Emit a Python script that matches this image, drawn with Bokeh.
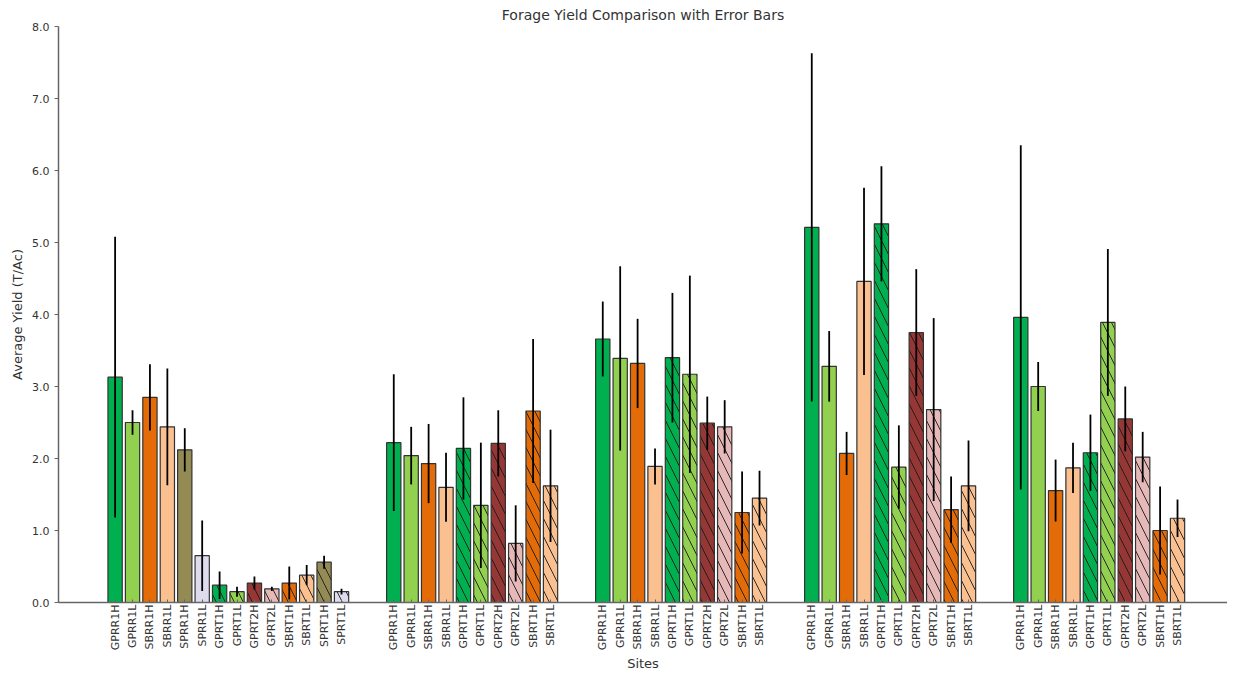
import math
from bokeh.plotting import figure
from bokeh.models import ColumnDataSource, FixedTicker, PrintfTickFormatter, Range1d, Title
from bokeh.embed import file_html
from bokeh.resources import INLINE

# ---- data ----
site1_categories = ["GPRR1H", "GPRR1L", "SBRR1H", "SBRR1L", "SPRR1H", "SPRR1L", "GPRT1H",
                    "GPRT1L", "GPRT2H", "GPRT2L", "SBRT1H", "SBRT1L", "SPRT1H", "SPRT1L"]
site1_means = [3.13, 2.50, 2.85, 2.44, 2.12, 0.65, 0.24, 0.15, 0.27, 0.19, 0.27, 0.38, 0.56, 0.15]
site1_errs = [1.95, 0.17, 0.46, 0.81, 0.30, 0.49, 0.19, 0.07, 0.09, 0.03, 0.23, 0.14, 0.09, 0.04]

site_categories = ["GPRR1H", "GPRR1L", "SBRR1H", "SBRR1L", "GPRT1H",
                   "GPRT1L", "GPRT2H", "GPRT2L", "SBRT1H", "SBRT1L"]
site2_means = [2.22, 2.04, 1.93, 1.60, 2.14, 1.35, 2.21, 0.82, 2.66, 1.62]
site2_errs = [0.95, 0.40, 0.55, 0.48, 0.71, 0.87, 0.46, 0.53, 1.00, 0.78]
site3_means = [3.66, 3.39, 3.32, 1.89, 3.40, 3.17, 2.49, 2.44, 1.25, 1.45]
site3_errs = [0.52, 1.28, 0.62, 0.25, 0.90, 1.37, 0.37, 0.37, 0.57, 0.38]
site4_means = [5.21, 3.28, 2.07, 4.46, 5.26, 1.88, 3.75, 2.68, 1.29, 1.62]
site4_errs = [2.42, 0.49, 0.30, 1.30, 0.80, 0.58, 0.88, 1.27, 0.46, 0.63]
site5_means = [3.96, 3.00, 1.555, 1.87, 2.08, 3.89, 2.55, 2.02, 1.00, 1.17]
site5_errs = [2.39, 0.34, 0.43, 0.35, 0.53, 1.02, 0.45, 0.35, 0.61, 0.26]

colors = {
    "GPRR1H": "#00b050", "GPRT1H": "#00b050",
    "GPRR1L": "#92d050", "GPRT1L": "#92d050",
    "SBRR1H": "#e36c09", "SBRT1H": "#e36c09",
    "SBRR1L": "#fac090", "SBRT1L": "#fac090",
    "SPRR1H": "#948a54", "SPRT1H": "#948a54",
    "SPRR1L": "#dedcec", "SPRT1L": "#dedcec",
    "GPRT2H": "#953735", "GPRT2L": "#e6b9b8",
}

groups = [
    (site1_categories, site1_means, site1_errs),
    (site_categories, site2_means, site2_errs),
    (site_categories, site3_means, site3_errs),
    (site_categories, site4_means, site4_errs),
    (site_categories, site5_means, site5_errs),
]

GAP = 2  # empty slots between sites
xs, tops, errs, labels, fills, hatches = [], [], [], [], [], []
pos = 0
for cats, means, es in groups:
    for c, m, e in zip(cats, means, es):
        xs.append(pos)
        tops.append(m)
        errs.append(e)
        labels.append(c)
        fills.append(colors[c])
        hatches.append("\\" if "RT" in c else " ")
        pos += 1
    pos += GAP

src = ColumnDataSource(dict(
    x=xs, top=tops, lo=[t - e for t, e in zip(tops, errs)],
    hi=[t + e for t, e in zip(tops, errs)], fill=fills, hatch=hatches,
))

FONT = "DejaVu Sans"
TXT = "#333333"
X0, X1 = -3.25, 63.87

p = figure(width=1227, height=670, output_backend="svg", toolbar_location=None,
           x_range=Range1d(X0, X1), y_range=Range1d(0, 8),
           title="Forage Yield Comparison with Error Bars",
           min_border_left=58, min_border_right=0, min_border_top=19, min_border_bottom=0)

p.vbar(x="x", top="top", width=0.82, source=src, fill_color="fill",
       line_color="#333333", line_width=1.2, hatch_pattern="hatch",
       hatch_color="#1a1a1a", hatch_weight=1.0, hatch_scale=18, hatch_alpha=0.9)
p.segment(x0="x", y0="lo", x1="x", y1="hi", source=src, line_color="black", line_width=1.8)

p.title.align = "center"
p.title.text_font = FONT
p.title.text_font_size = "14px"
p.title.text_font_style = "normal"
p.title.text_color = TXT
p.title.standoff = 8

p.grid.visible = False
p.outline_line_color = None

xa = p.xaxis[0]
xa.ticker = FixedTicker(ticks=xs)
xa.major_label_overrides = {x: l for x, l in zip(xs, labels)}
xa.major_label_orientation = math.pi / 2
xa.major_label_text_font = FONT
xa.major_label_text_font_size = "11px"
xa.major_label_text_color = TXT
xa.major_label_standoff = 2
xa.major_tick_in = 3
xa.major_tick_out = 0
xa.minor_tick_line_color = None
xa.axis_line_color = "#666666"
xa.axis_line_width = 1.5
xa.major_tick_line_color = "#666666"

# x-axis title as a panel below the tick labels
p.add_layout(Title(text="Sites", align="center", standoff=0, text_font=FONT,
                   text_font_size="13px", text_font_style="normal", text_color=TXT),
             "below")

ya = p.yaxis[0]
ya.ticker = FixedTicker(ticks=[0, 1, 2, 3, 4, 5, 6, 7, 8])
ya.formatter = PrintfTickFormatter(format="%.1f")
ya.major_label_text_font = FONT
ya.major_label_text_font_size = "11px"
ya.major_label_text_color = TXT
ya.major_tick_in = 0
ya.major_tick_out = 4
ya.minor_tick_line_color = None
ya.axis_label = "Average Yield (T/Ac)"
ya.axis_label_text_font = FONT
ya.axis_label_text_font_size = "13px"
ya.axis_label_text_font_style = "normal"
ya.axis_label_text_color = TXT
ya.axis_label_standoff = 4
ya.axis_line_color = "#666666"
ya.axis_line_width = 1.5
ya.major_tick_line_color = "#666666"

open("out.html", "w").write(file_html(p, INLINE))
